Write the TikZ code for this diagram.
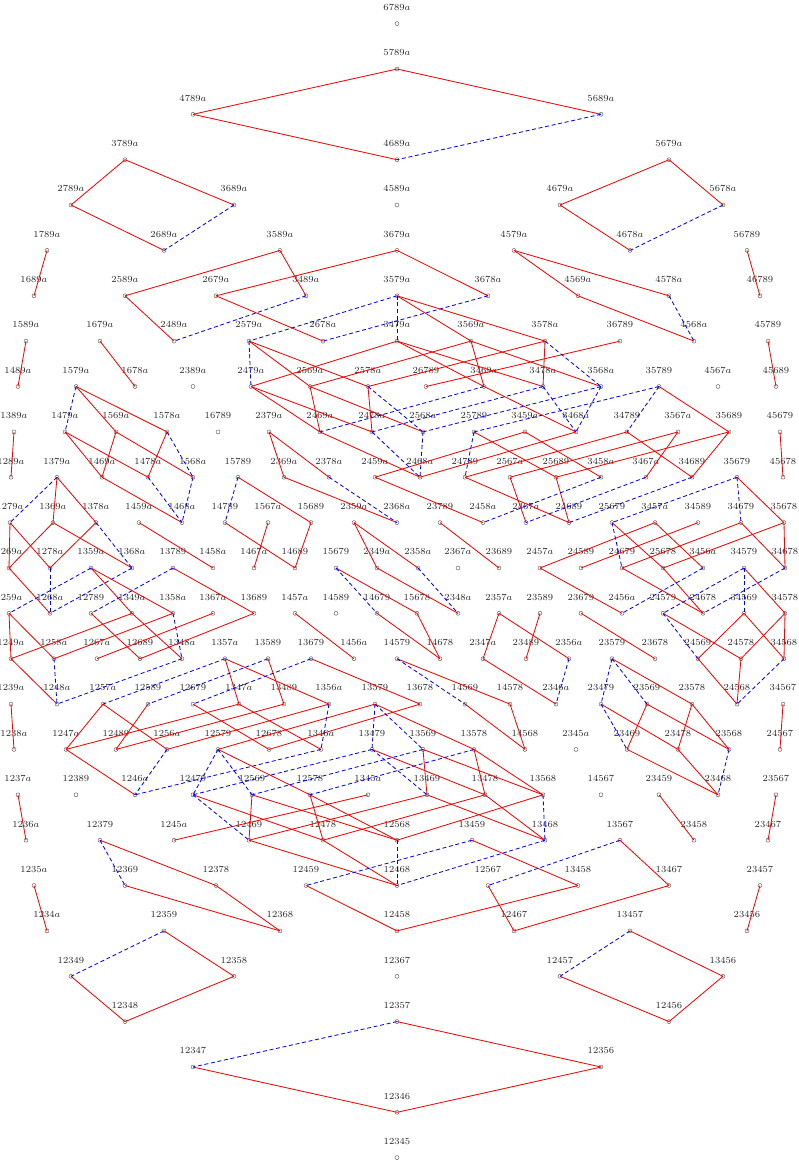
\documentclass[tikz,border=0pt]{standalone}
\tikzset{
  pt/.style={circle,draw=black!70,line width=0.3pt,inner sep=0pt,minimum size=3pt},
  lab/.style={inner sep=0pt,font=\scriptsize,text=black!85,yshift=8pt},
  redge/.style={draw=red,line width=0.62pt},
  bedge/.style={draw=blue,line width=0.62pt,dash pattern=on 3pt off 2pt}
}
\newcommand\rw[2]{\foreach \x/\n in {#2}{\node[pt,label={[lab]90:$\n$}] (\n) at (\x,#1) {};}}
\newcommand\reds[1]{\foreach \a/\b in {#1}{\draw[redge] (\a.center) -- (\b.center);}}
\newcommand\blues[1]{\foreach \a/\b in {#1}{\draw[bedge] (\a.center) -- (\b.center);}}
\begin{document}
\begin{tikzpicture}[x=0.75pt,y=-0.75pt]
\useasboundingbox (0,0) rectangle (799,1164);
\rw{23.6}{397/6789a}
\rw{69}{397/5789a}
\rw{114.3}{193/4789a,601/5689a}
\rw{159.7}{125/3789a,397/4689a,669/5679a}
\rw{205}{71/2789a,234/3689a,397/4589a,560/4679a,723/5678a}
\rw{250.4}{47/1789a,164/2689a,280/3589a,397/3679a,514/4579a,630/4678a,747/56789}
\rw{295.8}{34/1689a,125/2589a,216/2679a,306/3489a,397/3579a,488/3678a,578/4569a,669/4578a,760/46789}
\rw{341.1}{26/1589a,100/1679a,174/2489a,249/2579a,323/2678a,397/3479a,471/3569a,545/3578a,620/36789,694/4568a,768/45789}
\rw{386.5}{18/1489a,76/1579a,135/1678a,193/2389a,251/2479a,310/2569a,368/2578a,426/26789,484/3469a,543/3478a,601/3568a,659/35789,718/4567a,776/45689}
\rw{431.9}{14/1389a,65/1479a,116/1569a,167/1578a,218/16789,269/2379a,320/2469a,372/2478a,423/2568a,474/25789,525/3459a,576/3468a,627/34789,678/3567a,729/35689,780/45679}
\rw{477.2}{11/1289a,57/1379a,102/1469a,148/1478a,193/1568a,238/15789,284/2369a,329/2378a,375/2459a,420/2468a,465/24789,510/2567a,556/25689,601/3458a,646/3467a,692/34689,737/35679,783/45678}
\rw{522.6}{10/1279a,53/1369a,96/1378a,139/1459a,182/1468a,225/14789,268/1567a,311/15689,354/2359a,397/2368a,440/23789,483/2458a,526/2467a,569/24689,612/25679,655/3457a,698/34589,741/34679,784/35678}
\rw{568}{9/1269a,50/1278a,91/1359a,132/1368a,173/13789,213/1458a,254/1467a,295/14689,336/15679,377/2349a,418/2358a,458/2367a,499/23689,540/2457a,581/24589,622/24679,663/25678,703/3456a,744/34579,785/34678}
\rw{613.3}{9/1259a,50/1268a,91/12789,132/1349a,173/1358a,213/1367a,254/13689,295/1457a,336/14589,377/14679,417/15678,458/2348a,499/2357a,540/23589,581/23679,622/2456a,663/24579,703/24678,744/34569,785/34578}
\rw{658.7}{11/1249a,54/1258a,97/1267a,140/12689,182/1348a,225/1357a,268/13589,311/13679,354/1456a,397/14579,440/14678,483/2347a,526/23489,569/2356a,612/23579,655/23678,698/24569,741/24578,784/34568}
\rw{704.1}{11/1239a,57/1248a,103/1257a,148/12589,193/12679,239/1347a,284/13489,329/1356a,375/13579,420/13678,465/14569,510/14578,556/2346a,601/23479,647/23569,692/23578,737/24568,783/34567}
\rw{749.4}{14/1238a,66/1247a,116/12489,167/1256a,218/12579,269/12678,321/1346a,372/13479,423/13569,474/13578,525/14568,576/2345a,627/23469,678/23478,729/23568,780/24567}
\rw{794.8}{18/1237a,76/12389,135/1246a,193/12479,252/12569,310/12578,368/1345a,427/13469,485/13478,543/13568,601/14567,659/23459,718/23468,776/23567}
\rw{840.2}{26/1236a,100/12379,174/1245a,249/12469,323/12478,397/12568,472/13459,545/13468,620/13567,694/23458,768/23467}
\rw{885.5}{34/1235a,125/12369,216/12378,306/12459,397/12468,488/12567,578/13458,669/13467,760/23457}
\rw{930.9}{47/1234a,164/12359,280/12368,397/12458,514/12467,630/13457,747/23456}
\rw{976.3}{71/12349,234/12358,397/12367,560/12457,723/13456}
\rw{1021.6}{125/12348,397/12357,669/12456}
\rw{1067}{193/12347,601/12356}
\rw{1112.3}{397/12346}
\rw{1157.6}{397/12345}
\reds{5789a/4789a,5789a/5689a,4789a/4689a,3789a/2789a,3789a/3689a,2789a/2689a,5679a/4679a,5679a/5678a,4679a/4678a,1789a/1689a,3589a/2589a,3589a/3489a,2589a/2489a,3679a/2679a,3679a/3678a,2679a/2678a,4579a/4569a,4579a/4578a,4569a/4568a,56789/46789,1589a/1489a,1679a/1678a,45789/45689}
\blues{5689a/4689a,3689a/2689a,5678a/4678a,3489a/2489a,3678a/2678a,4578a/4568a}
\reds{3579a/3569a,3579a/3578a,2579a/2569a,2579a/2578a,3479a/2479a,3479a/3469a,3479a/3478a,3569a/2569a,3569a/3469a,3569a/3568a,3578a/2578a,3578a/3478a,36789/26789,2479a/2469a,2479a/2478a,2569a/2469a,2569a/2568a,2578a/2478a,3469a/3468a,2469a/2468a,3468a/2468a,3459a/2459a,3459a/3458a,2459a/2458a,35789/35689,25789/25689,34789/24789,34789/34689,35689/25689,35689/34689,3567a/2567a,3567a/3467a,2567a/2467a,25689/24689,24789/24689}
\blues{3579a/2579a,3579a/3479a,2579a/2479a,3578a/3568a,2578a/2568a,3469a/2469a,3478a/2478a,3478a/3468a,3568a/2568a,3568a/3468a,2478a/2468a,2568a/2468a,35789/25789,35789/34789,25789/24789,3458a/2458a,3467a/2467a,34689/24689}
\reds{2379a/2369a,2379a/2378a,2369a/2368a,2359a/2358a,2359a/2349a,2349a/2348a,23789/23689,15679/15678,14679/14678,15678/14678,15789/15689,14789/14689,1567a/1467a,15689/14689,1459a/1458a,1389a/1289a}
\blues{2378a/2368a,2358a/2348a,15679/14679,15789/14789}
\reds{1579a/1569a,1579a/1578a,1479a/1469a,1479a/1478a,1569a/1469a,1569a/1568a,1578a/1478a,1469a/1468a}
\blues{1579a/1479a,1578a/1568a,1478a/1468a,1568a/1468a}
\reds{1379a/1369a,1379a/1378a,1279a/1269a,1279a/1278a,1369a/1269a,1369a/1368a,1378a/1278a,1269a/1268a}
\blues{1379a/1279a,1378a/1368a,1278a/1268a,1368a/1268a}
\reds{1359a/1349a,1359a/1358a,13789/13689,1259a/1249a,1259a/1258a,1349a/1249a,1349a/1348a,1358a/1258a,12789/12689,13689/12689,1367a/1267a,1249a/1248a}
\blues{1359a/1259a,13789/12789,1358a/1348a,1258a/1248a,1348a/1248a}
\reds{1357a/1347a,1357a/1356a,13589/13489,13679/13678,1456a/1457a,14579/14578,14569/14568,14578/14568,1257a/1247a,1257a/1256a,12589/12489,12679/12678,1347a/1247a,1347a/1346a,1356a/1256a,13489/12489,13579/12579,13579/13578,13678/12678,1247a/1246a,1239a/1238a}
\blues{1357a/1257a,13589/12589,13679/12679,14579/14569,1356a/1346a,13579/13479,13579/13569,1256a/1246a,1346a/1246a}
\reds{12579/12578,13479/13478,13569/13469,13569/13568,13578/13478,13578/13568,12479/12478,12569/12469,12569/12568,12578/12478,12578/12568,1345a/1245a,13469/12469,13478/12478,13568/12568,13469/13468,13478/13468,12469/12468,12478/12468}
\blues{12579/12479,12579/12569,13479/12479,13479/13469,13569/12569,13578/12578,12479/12469,13568/13468,12568/12468,13468/12468}
\reds{13459/13458,12459/12458,13458/12458,13567/13467,12567/12467,13467/12467,23459/23458,23567/23467,23457/23456,1237a/1236a,1235a/1234a,12379/12378,12369/12368,12378/12368,12359/12358,12349/12348,12358/12348,13457/13456,12457/12456,13456/12456,12357/12356,12347/12346,12356/12346,34567/24567,45679/45678}
\blues{13459/12459,13567/12567,12379/12369,12359/12349,13457/12457,12357/12347}
\reds{35679/35678,34679/24679,34679/34678,35678/25678,35678/34678,25679/25678,25678/24678,24679/24678,3457a/3456a,3457a/2457a,34589/24589,2457a/2456a}
\blues{35679/25679,35679/34679,25679/24679,34678/24678,3456a/2456a}
\reds{34579/34578,24579/24578,34569/24569,34569/34568,34578/24578,34578/34568,24569/24568,24578/24568,23679/23678,23589/23489,2357a/2347a,2357a/2356a,2347a/2346a}
\blues{34579/24579,34579/34569,24579/24569,34568/24568,2356a/2346a}
\reds{23579/23578,23479/23478,23569/23469,23569/23568,23578/23478,23578/23568,23469/23468,23478/23468}
\blues{23579/23479,23579/23569,23479/23469,23568/23468}
\end{tikzpicture}
\end{document}
